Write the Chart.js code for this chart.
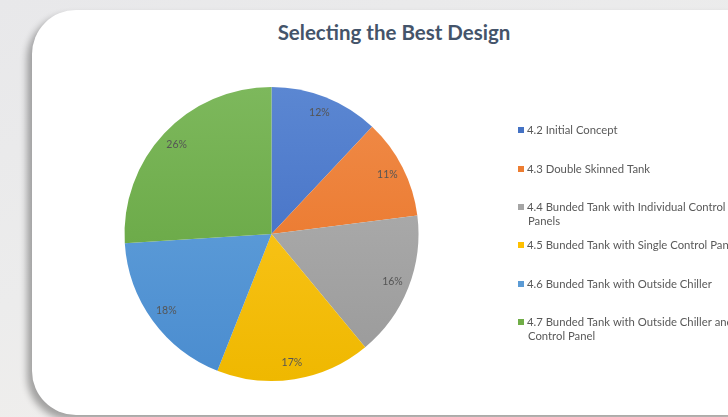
<!DOCTYPE html>
<html>
<head>
<meta charset="utf-8">
<script src="https://cdn.jsdelivr.net/npm/chart.js@4.4.1/dist/chart.umd.min.js"></script>
<style>
    html, body { margin: 0; padding: 0; width: 728px; height: 417px; overflow: hidden; }
    body { background: linear-gradient(160deg, #e8e8ea 0%, #ececec 45%, #f4f1ed 100%); position: relative; }
    .card {
        position: absolute; left: 32px; top: 10px; width: 740px; height: 405px;
        background: #fff; border-radius: 44px;
        box-shadow: -5px 5px 7px rgba(0, 0, 0, 0.32);
    }
    .title {
        position: absolute; left: 0; width: 788px; top: 20px; text-align: center;
        font-family: Lato, "Open Sans", sans-serif; font-weight: bold; font-size: 20.5px;
        color: #44546a;
    }
    #wrap { position: absolute; left: 0; top: 0; width: 728px; height: 417px; }
</style>
</head>
<body>
<div class="card"></div>
<div class="title">Selecting the Best Design</div>
<div id="wrap"><canvas id="pieChart"></canvas></div>
<script>
document.addEventListener('DOMContentLoaded', function() {
    const designLabels = [
        ['4.2 Initial Concept'],
        ['4.3 Double Skinned Tank'],
        ['4.4 Bunded Tank with Individual Control', 'Panels'],
        ['4.5 Bunded Tank with Single Control Panel'],
        ['4.6 Bunded Tank with Outside Chiller'],
        ['4.7 Bunded Tank with Outside Chiller and', 'Control Panel']
    ];
    const designShares = [12, 11, 16, 17, 18, 26];
    const topColors = ['#5b87d2', '#f08c4a', '#b4b4b4', '#ffca2a', '#68a6de', '#7db85c'];
    const bottomColors = ['#3a66c0', '#e86e1e', '#999999', '#efb800', '#4a8ccf', '#5fa03a'];
    const keyColors = ['#4472c4', '#ed7d31', '#a5a5a5', '#ffc000', '#5b9bd5', '#70ad47'];

    // slice fills fade from light at the top to darker at the bottom
    function sliceFill(context) {
        const chart = context.chart;
        const area = chart.chartArea;
        if (!area) return keyColors[context.dataIndex];
        const g = chart.ctx.createLinearGradient(0, area.top, 0, area.bottom);
        g.addColorStop(0, topColors[context.dataIndex]);
        g.addColorStop(1, bottomColors[context.dataIndex]);
        return g;
    }

    const sliceLabels = {
        id: 'sliceLabels',
        afterDatasetsDraw(chart) {
            const ctx = chart.ctx;
            const meta = chart.getDatasetMeta(0);
            ctx.save();
            ctx.font = '10.5px Lato, "Open Sans", sans-serif';
            ctx.fillStyle = '#555555';
            ctx.textAlign = 'center';
            ctx.textBaseline = 'middle';
            meta.data.forEach((arc, i) => {
                const p = arc.getProps(['x', 'y', 'startAngle', 'endAngle', 'outerRadius'], true);
                const mid = (p.startAngle + p.endAngle) / 2;
                const r = p.outerRadius * 0.885;
                ctx.fillText(designShares[i] + '%', p.x + Math.cos(mid) * r, p.y + Math.sin(mid) * r);
            });
            ctx.restore();
        }
    };

    const sideLegend = {
        id: 'sideLegend',
        afterDraw(chart) {
            const ctx = chart.ctx;
            const rows = [130, 169, 207, 245, 284, 322];
            ctx.save();
            ctx.font = '11.3px Lato, "Open Sans", sans-serif';
            ctx.textBaseline = 'middle';
            designLabels.forEach((lines, i) => {
                const y = rows[i];
                ctx.fillStyle = keyColors[i];
                ctx.fillRect(518, y - 3, 6, 6);
                ctx.fillStyle = '#595959';
                lines.forEach((line, j) => {
                    ctx.fillText(line, j === 0 ? 527 : 528, y + j * 14.5);
                });
            });
            ctx.restore();
        }
    };

    const ctx = document.getElementById('pieChart').getContext('2d');
    new Chart(ctx, {
        type: 'pie',
        data: {
            labels: designLabels,
            datasets: [{
                data: designShares,
                backgroundColor: sliceFill,
                borderWidth: 0
            }]
        },
        options: {
            responsive: true,
            maintainAspectRatio: false,
            animation: false,
            layout: {
                padding: { left: 124, right: 309, top: 87, bottom: 36 }
            },
            plugins: {
                legend: { display: false },
                tooltip: { enabled: false }
            }
        },
        plugins: [sliceLabels, sideLegend]
    });
});
</script>
</body>
</html>
